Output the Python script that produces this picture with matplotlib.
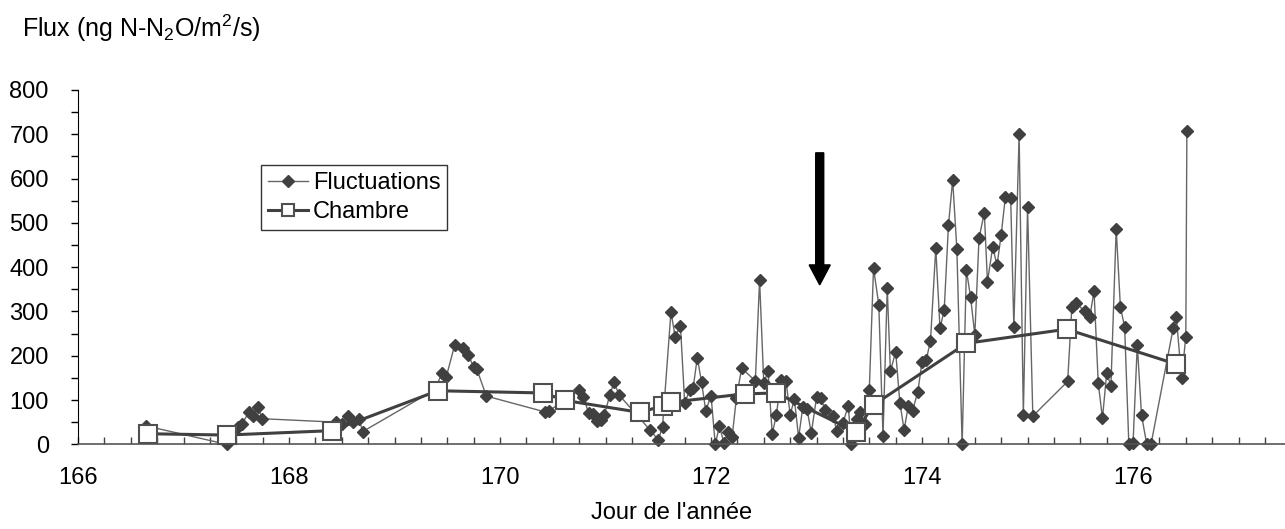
import matplotlib
matplotlib.use('Agg')
import matplotlib.pyplot as plt
from matplotlib.ticker import MultipleLocator

plt.rcParams['font.family'] = ['Liberation Sans', 'DejaVu Sans']
plt.rcParams['mathtext.fontset'] = 'custom'
plt.rcParams['mathtext.rm'] = 'Liberation Sans'
plt.rcParams['mathtext.it'] = 'Liberation Sans:italic'

# data (jour de l'annee, flux)
jour_fluct = [166.64, 167.41, 167.52, 167.55, 167.62, 167.66, 167.71, 167.74,
              168.45, 168.50, 168.56, 168.61, 168.66, 168.70,
              169.38, 169.45, 169.49, 169.57, 169.65, 169.70, 169.75, 169.78, 169.87,
              170.43, 170.46, 170.75, 170.79, 170.84, 170.88, 170.92, 170.96, 170.99,
              171.04, 171.08, 171.13, 171.42, 171.50, 171.54, 171.62, 171.66, 171.71,
              171.75, 171.80, 171.83, 171.87, 171.91, 171.95, 172.00, 172.04, 172.08,
              172.12, 172.16, 172.20, 172.24, 172.29, 172.42, 172.46, 172.50, 172.54,
              172.58, 172.62, 172.66, 172.71, 172.75, 172.79, 172.83, 172.87, 172.91,
              172.95, 173.00, 173.04, 173.08, 173.16, 173.19, 173.25, 173.30, 173.33,
              173.38, 173.41, 173.46, 173.50, 173.54, 173.59, 173.63, 173.67, 173.70,
              173.75, 173.79, 173.83, 173.87, 173.91, 173.96, 174.00, 174.04, 174.08,
              174.13, 174.17, 174.21, 174.25, 174.29, 174.33, 174.38, 174.42, 174.46,
              174.50, 174.54, 174.59, 174.62, 174.67, 174.71, 174.75, 174.79, 174.84,
              174.87, 174.92, 174.96, 175.00, 175.05, 175.38, 175.42, 175.46, 175.54,
              175.59, 175.63, 175.67, 175.71, 175.75, 175.79, 175.84, 175.88, 175.92,
              175.96, 176.00, 176.04, 176.08, 176.13, 176.17, 176.38, 176.41, 176.46,
              176.50, 176.51]
flux_fluct = [42, 0, 40, 45, 72, 65, 85, 58,
              50, 45, 65, 50, 58, 29,
              123, 160, 152, 224, 217, 202, 174, 170, 109,
              73, 75, 122, 108, 70, 68, 52, 56, 67,
              111, 140, 111, 33, 10, 40, 299, 243, 268,
              94, 123, 127, 196, 140, 76, 110, 0, 42,
              4, 29, 17, 104, 172, 143, 371, 138, 165,
              24, 67, 145, 144, 67, 102, 15, 85, 80,
              25, 106, 104, 78, 64, 30, 48, 87, 1,
              57, 74, 46, 123, 398, 315, 18, 353, 165,
              209, 93, 33, 87, 76, 119, 187, 191, 234,
              443, 262, 303, 494, 597, 440, 0, 394, 332,
              247, 465, 523, 367, 446, 404, 473, 559, 556,
              265, 700, 67, 535, 64, 142, 311, 320, 300,
              288, 346, 138, 59, 161, 132, 487, 310, 265,
              0, 4, 225, 66, 0, 0, 262, 287, 149,
              243, 708]

jour_chambre = [166.66, 167.41, 168.41, 169.41, 170.41, 170.62, 171.33, 171.54,
                171.62, 172.32, 172.62, 173.37, 173.54, 174.42, 175.37, 176.41]
flux_chambre = [24, 21, 31, 121, 116, 99, 72, 87,
                95, 114, 116, 28, 89, 228, 260, 181]

fig = plt.figure(figsize=(12.85, 5.29), dpi=100)
ax = fig.add_axes([0.0607, 0.160, 0.9393, 0.670])

ax.plot(jour_fluct, flux_fluct, color='#666666', lw=1.0, marker='D', ms=6.5,
        mfc='#404040', mec='#404040', label='Fluctuations', clip_on=False, zorder=2)
ax.plot(jour_chambre, flux_chambre, color='#404040', lw=2.2, marker='s', ms=12.5,
        mfc='white', mec='#505050', mew=1.5, label='Chambre', clip_on=False, zorder=3)

# fleche
ax.arrow(173.03, 658, 0, -298, width=0.076, head_width=0.2, head_length=45,
         length_includes_head=True, color='black', zorder=4)

ax.set_xlim(166, 177.44)
ax.set_ylim(0, 800)
ax.xaxis.set_major_locator(MultipleLocator(2))
ax.xaxis.set_minor_locator(MultipleLocator(0.25))
ax.yaxis.set_major_locator(MultipleLocator(100))
ax.yaxis.set_minor_locator(MultipleLocator(50))
ax.tick_params(axis='x', which='both', direction='in', length=5, width=1, pad=16,
               labelsize=17, color='#404040')
ax.tick_params(axis='y', which='both', direction='out', length=5, width=1, pad=16,
               labelsize=17)
for s in ['top', 'right']:
    ax.spines[s].set_visible(False)
ax.spines['bottom'].set_color('#555555')
ax.spines['bottom'].set_linewidth(1.2)

fig.text(0.523, 0.030, "Jour de l'année", fontsize=17, ha='center', va='center')
fig.text(0.017, 0.947, r'Flux (ng N-N$_2$O/m$^2$/s)', fontsize=18, ha='left', va='center')

leg = ax.legend(loc='upper left', bbox_to_anchor=(260.7 / 1285, 1 - 165 / 529),
                bbox_transform=fig.transFigure, fontsize=17, frameon=True,
                fancybox=False, edgecolor='black', handlelength=1.7,
                handletextpad=0.2, borderpad=0.3, labelspacing=0.3, borderaxespad=0)
leg.get_frame().set_linewidth(1.0)
leg.legend_handles[0].set_markersize(6)
leg.legend_handles[1].set_markersize(8.5)

fig.savefig('out.png', dpi=100)
